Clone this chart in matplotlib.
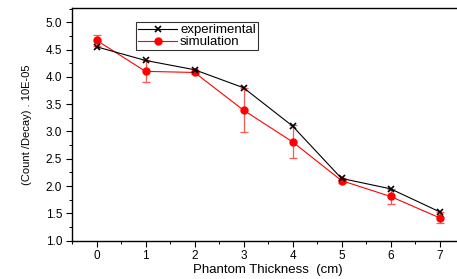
import matplotlib.pyplot as plt
from matplotlib.ticker import MultipleLocator
from matplotlib.lines import Line2D

plt.rcParams['font.family'] = ['Liberation Sans', 'DejaVu Sans']

# data
thickness = [0, 1, 2, 3, 4, 5, 6, 7]
experimental = [4.55, 4.30, 4.13, 3.80, 3.10, 2.14, 1.95, 1.53]
simulation = [4.67, 4.10, 4.08, 3.39, 2.81, 2.10, 1.81, 1.42]
sim_err = [0.10, 0.20, 0.03, 0.40, 0.30, 0.04, 0.14, 0.10]

fig = plt.figure(figsize=(4.57, 2.79), dpi=100)
# right spine sits just past the picture edge, like the original crop
ax = fig.add_axes([72/457, 1 - 240.7/279, 392/457, 232.7/279])

ax.plot(thickness, experimental, color='black', lw=0.8, marker='x',
        ms=5, mew=1.2, zorder=3)
ax.errorbar(thickness, simulation, yerr=sim_err, color='red', lw=0.8,
            marker='o', ms=5, capsize=3, elinewidth=0.9, capthick=0.9,
            ecolor='#ff5555', zorder=2)

ax.set_xlim(-0.5, 7.5)
ax.set_ylim(1.0, 5.26)
ax.xaxis.set_major_locator(MultipleLocator(1))
ax.xaxis.set_minor_locator(MultipleLocator(0.5))
ax.yaxis.set_minor_locator(MultipleLocator(0.25))
ax.tick_params(which='major', direction='out', length=4, width=0.8,
               labelsize=8.5, pad=3)
ax.tick_params(which='minor', direction='out', length=2.5, width=0.7)
ax.set_yticks([1.0, 1.5, 2.0, 2.5, 3.0, 3.5, 4.0, 4.5, 5.0])
ax.set_yticklabels(['1.0', '1.5', '2.0', '2.5', '3.0', '3.5', '4.0', '4.5', '5.0'])
for s in ax.spines.values():
    s.set_linewidth(1.0)

ax.set_xlabel('Phantom Thickness  (cm)', fontsize=9.5, labelpad=1)
ax.set_ylabel('(Count /Decay) . 10E-05', fontsize=8, labelpad=10)

handles = [
    Line2D([], [], color='black', lw=0.8, marker='x', ms=5, mew=1.2),
    Line2D([], [], color='red', lw=0.8, marker='o', ms=5),
]
leg = ax.legend(handles, ['experimental', 'simulation'], loc='upper left',
                bbox_to_anchor=(0.163, 0.94), fontsize=9.5,
                frameon=True, fancybox=False, edgecolor='black',
                borderpad=0.15, handlelength=3.0, handletextpad=0.2,
                labelspacing=0.0, borderaxespad=0)
leg.get_frame().set_linewidth(0.8)

fig.savefig('out.png', dpi=100)
